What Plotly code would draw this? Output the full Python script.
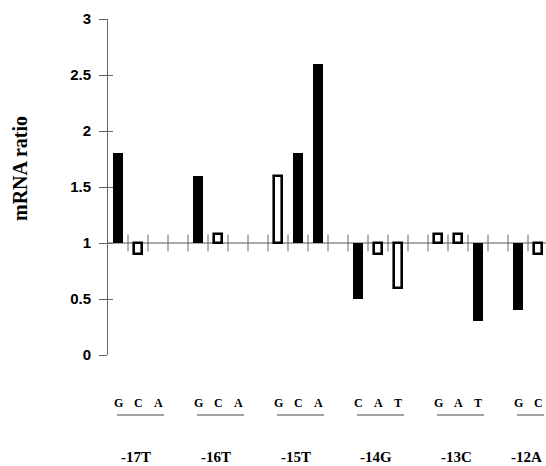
import plotly.graph_objects as go

# ---- data ----
groups = ["-17T", "-16T", "-15T", "-14G", "-13C", "-12A"]
bases = [["G", "C", "A"], ["G", "C", "A"], ["G", "C", "A"],
         ["C", "A", "T"], ["G", "A", "T"], ["G", "C"]]
# None = no bar drawn (ratio of 1, no change)
ratios = [[1.8, 0.9, None], [1.6, 1.08, None], [1.6, 1.8, 2.6],
          [0.5, 0.9, 0.6], [1.08, 1.08, 0.3], [0.4, 0.9]]
filled = [[True, False, False], [True, False, False], [False, True, True],
          [True, False, False], [False, False, True], [True, False]]
y_ticks = [0, 0.5, 1, 1.5, 2, 2.5, 3]
y_tick_text = ["0", "0.5", "1", "1.5", "2", "2.5", "3"]

SLOTS_PER_GROUP = 4
W, H = 546, 466
L, T, B = 108, 19, 111
plot_h = H - T - B
plot_bottom = H - B

bx_f, by_f, bx_o, by_o = [], [], [], []
letter_x, letter_t = [], []
group_x = []
for gi, (bs, rs, fs) in enumerate(zip(bases, ratios, filled)):
    start = gi * SLOTS_PER_GROUP
    xs = [start + k for k in range(len(bs))]
    group_x.append((xs[0], xs[-1]))
    for x, b, r, f in zip(xs, bs, rs, fs):
        letter_x.append(x)
        letter_t.append(b)
        if r is None:
            continue
        if f:
            bx_f.append(x); by_f.append(r - 1)
        else:
            bx_o.append(x); by_o.append(r - 1)

n_slots = (len(groups) - 1) * SLOTS_PER_GROUP + len(bases[-1])
boundaries = [i + 0.5 for i in range(n_slots - 1)]

fig = go.Figure()
fig.add_trace(go.Bar(x=bx_f, y=by_f, base=1, width=0.5,
                     marker=dict(color="black", line=dict(width=0)),
                     showlegend=False))
fig.add_trace(go.Bar(x=bx_o, y=by_o, base=1, width=0.36,
                     marker=dict(color="white", line=dict(color="black", width=2.6)),
                     showlegend=False))
# tick marks crossing the reference line at y = 1
fig.add_trace(go.Scatter(x=boundaries, y=[1] * len(boundaries), mode="markers",
                         marker=dict(symbol="line-ns-open", size=12, color="#666",
                                     line=dict(color="#666", width=1)),
                         showlegend=False, hoverinfo="skip", cliponaxis=False))

fig.add_shape(type="line", xref="paper", yref="y", x0=0, x1=1, y0=1, y1=1,
              line=dict(color="#555", width=1), layer="below")

serif = "Liberation Serif, Times New Roman, serif"
annotations = []
for x, t in zip(letter_x, letter_t):
    annotations.append(dict(x=x, y=0, xref="x", yref="paper", yshift=-48,
                            text="<b>%s</b>" % t, showarrow=False,
                            xanchor="center", yanchor="middle",
                            font=dict(family=serif, size=12, color="black")))
for g, (x0, x1) in zip(groups, group_x):
    annotations.append(dict(x=(x0 + x1) / 2 - 0.1, y=0, xref="x", yref="paper",
                            yshift=-102, text="<b>%s</b>" % g, showarrow=False,
                            xanchor="center", yanchor="middle",
                            font=dict(family=serif, size=15, color="black")))
    fig.add_shape(type="line", xref="x", yref="paper",
                  x0=x0 - 0.05, x1=x1 + 0.3, y0=-60 / plot_h, y1=-60 / plot_h,
                  line=dict(color="#444", width=1))
annotations.append(dict(x=0, y=(plot_bottom - 169) / plot_h, xref="paper", yref="paper",
                        xshift=-88, text="<b>mRNA ratio</b>", textangle=-90,
                        showarrow=False, xanchor="center", yanchor="middle",
                        font=dict(family=serif, size=20, color="black")))

fig.update_layout(
    width=W, height=H,
    margin=dict(l=L, r=0, t=T, b=B),
    paper_bgcolor="white", plot_bgcolor="white",
    bargap=0, barmode="overlay",
    annotations=annotations,
    xaxis=dict(range=[-0.5, 21.4], showgrid=False, zeroline=False,
               showline=False, showticklabels=False, ticks=""),
    yaxis=dict(range=[0, 3], tickvals=y_ticks,
               ticktext=["<b>%s</b>" % t for t in y_tick_text],
               showgrid=False, zeroline=False, showline=True,
               linecolor="#666", linewidth=1, ticks="outside", ticklen=8,
               tickcolor="#666", ticklabelstandoff=5, automargin=False,
               tickfont=dict(family="Liberation Sans, Arial, sans-serif",
                             size=15, color="black")),
    yaxis2=dict(range=[0, 3], overlaying="y", tickvals=y_ticks,
                showticklabels=False, showgrid=False, zeroline=False,
                showline=False, ticks="inside", ticklen=5, tickcolor="#666"),
)
# invisible trace to activate yaxis2
fig.add_trace(go.Scatter(x=[0], y=[0], yaxis="y2", mode="markers",
                         marker=dict(opacity=0), showlegend=False, hoverinfo="skip"))

fig.write_html("out.html", config={"displayModeBar": False},
               post_script="document.body.style.margin='0';"
                           "document.body.style.overflow='hidden';")
